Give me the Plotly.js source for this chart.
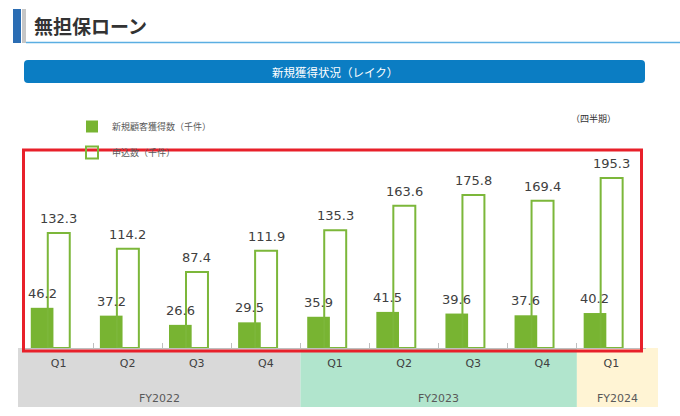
<!DOCTYPE html>
<html>
<head>
<meta charset="utf-8">
<script src="https://cdn.plot.ly/plotly-3.0.1.min.js"></script>
<style>
  html, body { margin: 0; padding: 0; background: #ffffff; }
  #chart { width: 680px; height: 416px; }
</style>
</head>
<body>
<div id="chart"></div>
<script>
// ---- data ----
const periods = ['FY2022 Q1', 'FY2022 Q2', 'FY2022 Q3', 'FY2022 Q4', 'FY2023 Q1', 'FY2023 Q2', 'FY2023 Q3', 'FY2023 Q4', 'FY2024 Q1'];
const quarterLabels = ['Q1', 'Q2', 'Q3', 'Q4', 'Q1', 'Q2', 'Q3', 'Q4', 'Q1'];
const fiscalYears = ['FY2022', 'FY2023', 'FY2024'];
const newCustomers = [46.2, 37.2, 26.6, 29.5, 35.9, 41.5, 39.6, 37.6, 40.2];
const applications = [132.3, 114.2, 87.4, 111.9, 135.3, 163.6, 175.8, 169.4, 195.3];
const seriesNames = ['新規顧客獲得数（千件）', '申込数（千件）'];
const pageTitle = '無担保ローン';
const bannerTitle = '新規獲得状況（レイク）';
const periodNote = '（四半期）';

// ---- helpers (pixel -> paper) ----
const W = 680, H = 416;
const px = x => x / W;
const py = y => 1 - y / H;

const jp = 'Noto Sans CJK JP, Noto Sans, sans-serif';
const num = 'DejaVu Sans, Verdana, sans-serif';

const greenFill = '#78b432';
const greenLine = '#7cb73a';

const axL = 24, axR = 646, n = periods.length, cw = (axR - axL) / n;
const bx = i => axL + i * cw;

const fillBar = { width: 0.328, offset: -0.402 };
const outlineBar = { width: 0.318, offset: -0.156 };

const traces = [
  {
    type: 'bar', name: seriesNames[0], legendgroup: 'a',
    x: periods, y: newCustomers,
    width: fillBar.width, offset: fillBar.offset,
    marker: { color: greenFill, line: { width: 0 } },
    hoverinfo: 'skip'
  },
  {
    type: 'bar', name: seriesNames[1], legendgroup: 'b',
    x: periods, y: applications,
    width: outlineBar.width, offset: outlineBar.offset,
    marker: { color: 'rgba(0,0,0,0)', line: { width: 2, color: greenLine } },
    hoverinfo: 'skip'
  }
];

// band geometry (category boundaries)
const bandTop = 348, bandBot = 407;
const bands = [
  { x0: 18, x1: bx(4), color: '#d9d9d9' },
  { x0: bx(4), x1: bx(8), color: '#b1e5cd' },
  { x0: bx(8), x1: 658, color: '#fff4d4' }
];

const shapes = [];
bands.forEach(b => shapes.push({
  type: 'rect', xref: 'paper', yref: 'paper', layer: 'below',
  x0: px(b.x0), x1: px(b.x1), y0: py(bandBot), y1: py(bandTop),
  fillcolor: b.color, line: { width: 0 }
}));

// title decorations
shapes.push({ type: 'rect', xref: 'paper', yref: 'paper', x0: px(13), x1: px(21), y0: py(43), y1: py(9), fillcolor: '#2b6db3', line: { width: 0 } });
shapes.push({ type: 'rect', xref: 'paper', yref: 'paper', x0: px(22), x1: px(26), y0: py(43), y1: py(9), fillcolor: '#c6c6c6', line: { width: 0 } });
shapes.push({ type: 'line', xref: 'paper', yref: 'paper', x0: px(26), x1: px(680), y0: py(42.5), y1: py(42.5), line: { color: '#5aaee2', width: 1.5 } });

// rounded banner
(function () {
  const l = 24, r = 645, t = 60, b = 83, rad = 4;
  const P = (x, y) => px(x) + ',' + py(y);
  const path = 'M' + P(l + rad, t) + ' L' + P(r - rad, t) + ' Q' + P(r, t) + ' ' + P(r, t + rad) +
    ' L' + P(r, b - rad) + ' Q' + P(r, b) + ' ' + P(r - rad, b) +
    ' L' + P(l + rad, b) + ' Q' + P(l, b) + ' ' + P(l, b - rad) +
    ' L' + P(l, t + rad) + ' Q' + P(l, t) + ' ' + P(l + rad, t) + ' Z';
  shapes.push({ type: 'path', xref: 'paper', yref: 'paper', path: path, fillcolor: '#0b7dc3', line: { width: 0 } });
})();

// red highlight rectangle
shapes.push({ type: 'rect', xref: 'paper', yref: 'paper', layer: 'above',
  x0: px(23.5), x1: px(641.5), y0: py(351), y1: py(150),
  fillcolor: 'rgba(0,0,0,0)', line: { color: '#e8202a', width: 3 } });

const annotations = [
  { text: '<b>' + pageTitle + '</b>', xref: 'paper', yref: 'paper', x: px(32), y: py(25), xanchor: 'left', yanchor: 'middle', showarrow: false,
    font: { family: jp, size: 19, color: '#333333' } },
  { text: bannerTitle, xref: 'paper', yref: 'paper', x: px(334.5), y: py(71.5), xanchor: 'center', yanchor: 'middle', showarrow: false,
    font: { family: jp, size: 11.5, color: '#ffffff' } },
  { text: periodNote, xref: 'paper', yref: 'paper', x: px(593), y: py(118), xanchor: 'center', yanchor: 'middle', showarrow: false,
    font: { family: jp, size: 9, color: '#333333' } }
];

// value labels, anchored on the data through the axes
const centerShift = spec => (spec.offset + spec.width / 2) * cw;
function addLabels(values, spec) {
  values.forEach((v, i) => annotations.push({
    text: v.toFixed(1), xref: 'x', yref: 'y', x: periods[i], y: v,
    xanchor: 'center', yanchor: 'bottom', xshift: centerShift(spec), yshift: 5,
    showarrow: false, font: { family: num, size: 13, color: '#404040' }
  }));
}
addLabels(newCustomers, fillBar);
addLabels(applications, outlineBar);

const fyCenters = bands.map(b => (b.x0 + b.x1) / 2);
fiscalYears.forEach((fy, i) => annotations.push({
  text: fy, xref: 'paper', yref: 'paper', x: px(fyCenters[i]), y: py(398), xanchor: 'center', yanchor: 'middle', showarrow: false,
  font: { family: num, size: 11, color: '#595959' }
}));

const yTop = 227.6;

const layout = {
  width: W, height: H,
  margin: { l: 0, r: 0, t: 0, b: 0, pad: 0 },
  paper_bgcolor: '#ffffff', plot_bgcolor: 'rgba(0,0,0,0)',
  barmode: 'overlay',
  showlegend: true,
  legend: {
    x: px(72), y: py(112), xanchor: 'left', yanchor: 'top',
    bgcolor: 'rgba(0,0,0,0)', borderwidth: 0,
    traceorder: 'grouped', tracegroupgap: 7,
    font: { family: jp, size: 9, color: '#595959' }
  },
  xaxis: {
    type: 'category', domain: [px(axL), px(axR)], range: [-0.5, n - 0.5],
    tickmode: 'array', tickvals: periods, ticktext: quarterLabels,
    tickson: 'boundaries', ticks: 'inside', ticklen: 5, tickcolor: '#bfbfbf', tickwidth: 1,
    ticklabelstandoff: 5,
    showline: true, linecolor: '#bfbfbf', linewidth: 1,
    showgrid: false, zeroline: false,
    tickfont: { family: num, size: 11, color: '#404040' },
    fixedrange: true
  },
  yaxis: {
    domain: [py(348), py(150)], range: [0, yTop],
    visible: false, showgrid: false, zeroline: false, fixedrange: true
  },
  shapes: shapes,
  annotations: annotations
};

Plotly.newPlot('chart', traces, layout, { displayModeBar: false, staticPlot: true });
</script>
</body>
</html>
